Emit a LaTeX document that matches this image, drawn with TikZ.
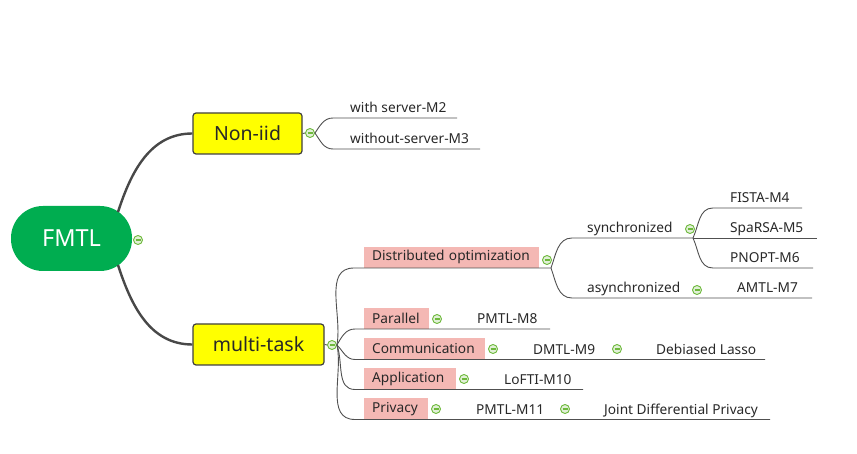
\documentclass[tikz,border=0pt]{standalone}
\usepackage{fontspec}
\setmainfont{Noto Sans}
\definecolor{fmtlgreen}{RGB}{0,173,80}
\definecolor{boxyellow}{RGB}{255,255,0}
\definecolor{pinkbox}{RGB}{244,184,180}
\definecolor{txt}{RGB}{40,40,40}
\definecolor{linegray}{RGB}{80,80,80}
\definecolor{tglgreen}{RGB}{110,185,60}
\definecolor{tglfill}{RGB}{225,240,215}
\tikzset{
  x=1pt,y=-1pt,
  root/.style={fill=fmtlgreen,text=white,rounded corners=32pt,minimum width=121pt,minimum height=65pt,font=\fontsize{23.5}{26}\selectfont,inner sep=0pt},
  mainbox/.style={fill=boxyellow,draw=linegray!80!black,line width=1.2pt,rounded corners=3pt,minimum height=41pt,font=\fontsize{19.5}{22}\selectfont,text=txt,inner sep=0pt},
  pinkb/.style={fill=pinkbox,minimum height=21pt,inner xsep=8pt,inner ysep=0pt,text width=#1,align=left,anchor=south west,font=\fontsize{13.7}{16}\selectfont,text=txt},
  leaf/.style={anchor=base west,inner sep=0pt,font=\fontsize{13.7}{16}\selectfont,text=txt},
  thick branch/.style={draw=linegray!90!black,line width=2.4pt},
  thin branch/.style={draw=linegray,line width=0.9pt},
  tgl/.style={circle,draw=tglgreen,fill=tglfill,line width=0.9pt,minimum size=9pt,inner sep=0pt,
     path picture={\draw[tglgreen,line width=1.1pt] ([xshift=-2.5pt]path picture bounding box.center) -- ([xshift=2.5pt]path picture bounding box.center);}}
}
\begin{document}
\begin{tikzpicture}
\useasboundingbox (0,0) rectangle (857,454);
% root
\node[root] (fmtl) at (71.5,238.5) {FMTL};
\node[tgl] (t0) at (138,240) {};
% main boxes
\node[mainbox,minimum width=109pt] (noniid) at (247.5,133.5) {Non-iid};
\node[mainbox,minimum width=131pt] (mt) at (258.5,344.5) {multi-task};
\coordinate (r1) at (118,212);
\coordinate (r2) at (118,265);
\draw[thick branch] (r1) to[out=72,in=180] (noniid.west);
\draw[thick branch] (r2) to[out=-72,in=180] (mt.west);
% Non-iid children
\node[tgl] (t1) at (310,133) {};
\draw[thin branch] (noniid.east) -- (t1.west);
\coordinate (w1) at (333,118); \coordinate (w1e) at (457,118);
\coordinate (w2) at (333,149); \coordinate (w2e) at (480,149);
\draw[thin branch] (t1.east) to[out=55,in=180] (w1) -- (w1e);
\draw[thin branch] (t1.east) to[out=-55,in=180] (w2) -- (w2e);
\node[leaf] (m2) at (350,113) {with server-M2};
\node[leaf] (m3) at (350,144) {without-server-M3};
% multi-task children
\node[tgl] (t2) at (332,345) {};
\draw[thin branch] (mt.east) -- (t2.west);
\node[pinkb=159pt] (dist) at (364,268) {Distributed optimization};
\node[pinkb=49pt] (par) at (364,329) {Parallel};
\node[pinkb=105pt] (com) at (364,359.5) {Communication};
\node[pinkb=76pt] (app) at (364,389.5) {Application};
\node[pinkb=48pt] (pri) at (364,419.5) {Privacy};
\coordinate (d0) at (354,268); \coordinate (d1) at (551,268);
\coordinate (p0) at (355,329); \coordinate (p1) at (550,329);
\coordinate (c0) at (355,359.5); \coordinate (c1) at (765,359.5);
\coordinate (a0) at (355,389.5); \coordinate (a1) at (583,389.5);
\coordinate (v0) at (355,419.5); \coordinate (v1) at (770,419.5);
\draw[thin branch] (t2.east) to[out=80,in=180] (d0) -- (d1);
\draw[thin branch] (t2.east) to[out=60,in=180] (p0) -- (p1);
\draw[thin branch] (t2.east) to[out=-45,in=180] (c0) -- (c1);
\draw[thin branch] (t2.east) to[out=-70,in=180] (a0) -- (a1);
\draw[thin branch] (t2.east) to[out=-78,in=180] (v0) -- (v1);
\node[tgl] (td) at (547,260) {};
\node[tgl] (tp) at (437,319) {};
\node[tgl] (tc) at (493,349) {};
\node[tgl] (tc2) at (617,349) {};
\node[tgl] (ta) at (464,379) {};
\node[tgl] (tv) at (436,409) {};
\node[tgl] (tv2) at (565,409) {};
\node[leaf] (m8) at (477,324) {PMTL-M8};
\node[leaf] (m9) at (533,354.5) {DMTL-M9};
\node[leaf] (dl) at (656,354.5) {Debiased Lasso};
\node[leaf] (m10) at (504,384.5) {LoFTI-M10};
\node[leaf] (m11) at (476,414.5) {PMTL-M11};
\node[leaf] (jdp) at (604,414.5) {Joint Differential Privacy};
% distributed optimization children
\coordinate (s0) at (572,238); \coordinate (s1) at (693,238);
\coordinate (as0) at (572,298); \coordinate (as1) at (812,298);
\draw[thin branch] (d1) to[out=70,in=180] (s0) -- (s1);
\draw[thin branch] (d1) to[out=-70,in=180] (as0) -- (as1);
\node[leaf] (sync) at (587,233) {synchronized};
\node[leaf] (async) at (587,293) {asynchronized};
\node[tgl] (ts) at (690,229) {};
\node[tgl] (tas) at (697,290) {};
\node[leaf] (m7) at (737,293) {AMTL-M7};
% synchronized children
\coordinate (f0) at (713,208); \coordinate (f1) at (802,208);
\coordinate (sp1) at (817,238);
\coordinate (pn0) at (713,268); \coordinate (pn1) at (813,268);
\draw[thin branch] (s1) to[out=65,in=180] (f0) -- (f1);
\draw[thin branch] (s1) -- (sp1);
\draw[thin branch] (s1) to[out=-65,in=180] (pn0) -- (pn1);
\node[leaf] (m4) at (730,203) {FISTA-M4};
\node[leaf] (m5) at (730,233) {SpaRSA-M5};
\node[leaf] (m6) at (730,263) {PNOPT-M6};
\end{tikzpicture}
\end{document}
